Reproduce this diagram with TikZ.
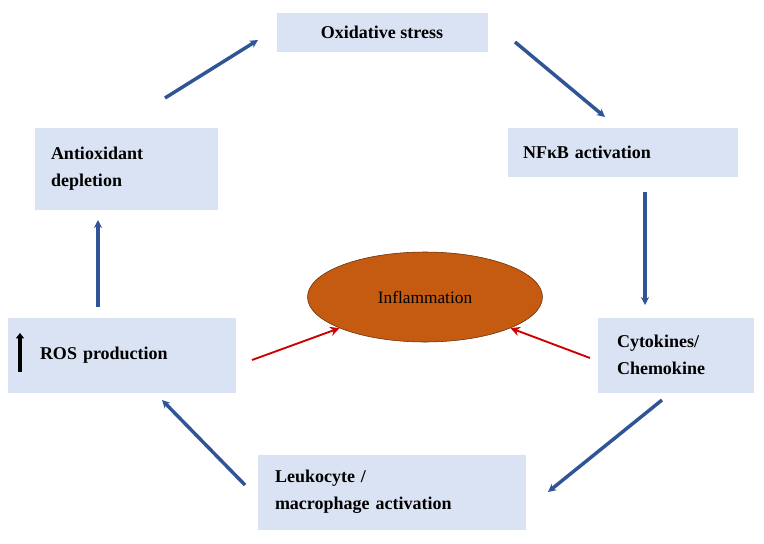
\documentclass[tikz,border=0pt]{standalone}
\usepackage{fontspec}
\setmainfont{Liberation Serif}
\usetikzlibrary{arrows.meta,shapes.geometric}
\definecolor{boxblue}{HTML}{DAE3F3}
\definecolor{arrblue}{HTML}{2F5597}
\definecolor{inflam}{HTML}{C55A11}
\tikzset{
	stepbox/.style={fill=boxblue,font=\bfseries\fontsize{13.5}{17}\selectfont,align=left,inner sep=0pt},
	cyc/.style={draw=arrblue,line width=2.6pt,-{Stealth[length=6pt,width=6pt]}},
	redarr/.style={draw=red!80!black,line width=1.4pt,-{Stealth[length=7pt,width=7pt]}}
}
\begin{document}
\begin{tikzpicture}[x=0.75pt,y=-0.75pt]
	\useasboundingbox (0,0) rectangle (764,543);
	% boxes
	\node[stepbox,minimum width=211*0.75pt,minimum height=39*0.75pt] (ox) at (382,32) {Oxidative stress};
	\node[stepbox,minimum width=230*0.75pt,minimum height=49*0.75pt,text width=200*0.75pt] (nf) at (623,152) {NFκB activation};
	\node[stepbox,minimum width=183*0.75pt,minimum height=82*0.75pt,text width=150*0.75pt] (ad) at (126,169) {Antioxidant\\[3pt]depletion};
	\node[stepbox,minimum width=228*0.75pt,minimum height=75*0.75pt,text width=196*0.75pt] (ros) at (122,355) {\hspace*{12pt}ROS production};
	\node[stepbox,minimum width=156*0.75pt,minimum height=75*0.75pt,text width=118*0.75pt] (cy) at (676,355) {Cytokines/\\[3pt]Chemokine};
	\node[stepbox,minimum width=268*0.75pt,minimum height=75*0.75pt,text width=234*0.75pt] (le) at (392,492) {Leukocyte /\\[3pt]macrophage activation};
	\node[ellipse,draw=inflam!50!black,fill=inflam,minimum width=235*0.75pt,minimum height=90*0.75pt,font=\fontsize{13}{15}\selectfont] (in) at (425,297) {Inflammation};
	% black up arrow
	\coordinate (ua) at (20,372);
	\coordinate (ub) at (20,333);
	\draw[line width=2.5pt,-{Triangle[length=4pt,width=6pt]}] (ua)--(ub);
	% cycle arrows
	\coordinate (a1) at (165,98);  \coordinate (b1) at (258,40);
	\coordinate (a2) at (515,42);  \coordinate (b2) at (605,117);
	\coordinate (a3) at (645,192); \coordinate (b3) at (645,305);
	\coordinate (a4) at (662,400); \coordinate (b4) at (548,492);
	\coordinate (a5) at (245,485); \coordinate (b5) at (162,400);
	\coordinate (a6) at (98,307);  \coordinate (b6) at (98,220);
	\draw[cyc] (a1)--(b1);
	\draw[cyc] (a2)--(b2);
	\draw[cyc] (a3)--(b3);
	\draw[cyc] (a4)--(b4);
	\draw[cyc] (a5)--(b5);
	\draw[cyc] (a6)--(b6);
	% red arrows
	\coordinate (r1) at (252,360);
	\coordinate (r2) at (590,358);
	\draw[redarr] (r1)--(in.200);
	\draw[redarr] (r2)--(in.-20);
\end{tikzpicture}
\end{document}
